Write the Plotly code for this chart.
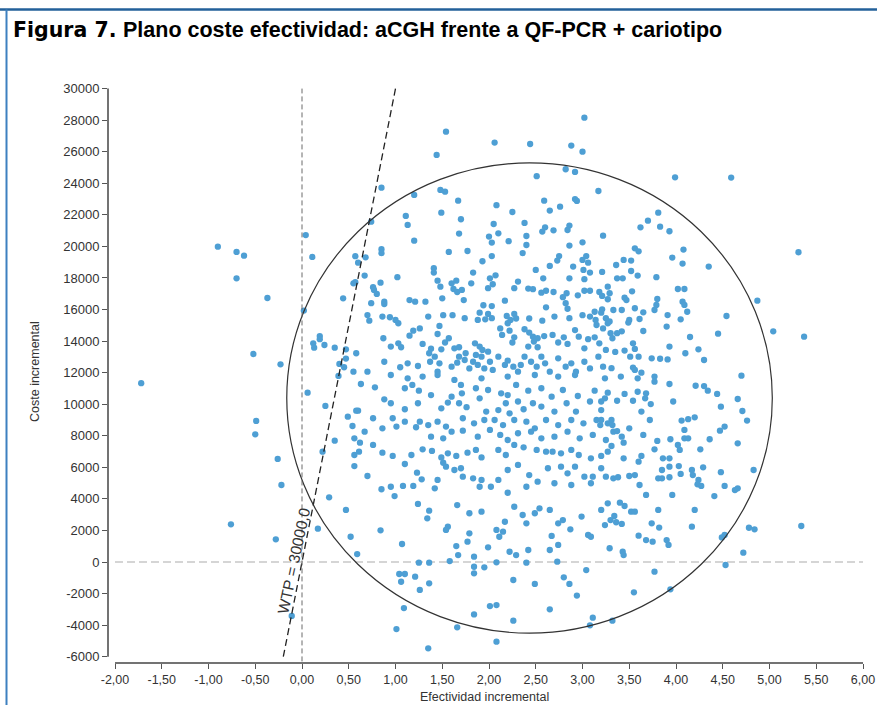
import plotly.graph_objects as go

# ---------------- data ----------------
# incremental effectiveness / incremental cost, grouped by region of the plane
pts_left = [(-0.90,19980),(-0.70,19650),(-0.62,19410),(-0.70,17980),(-0.37,16730),(0.04,20720),(0.11,19330),
    (0.02,15930),(-0.52,13180),(-0.23,12530),(0.19,14320),(0.19,14120),(0.12,13860),(0.13,13580),(0.24,13750),
    (0.35,13580),(0.40,12550),(0.47,12890),(0.39,11790),(-1.72,11330),(0.06,10730),(0.25,9890),(-0.49,8940),
    (-0.50,8090),(0.60,9590),(0.61,6990),(0.35,7690),(0.22,6990),(-0.26,6530),(-0.22,4880),(0.29,4100),
    (0.17,2110),(-0.76,2390),(-0.28,1440),(-0.11,-3420)]

pts_upper = [(3.02,28160),(1.54,27270),(2.06,26580),(2.44,26490),(2.88,26390),(3.00,26000),(1.44,25800),
    (2.82,24890),(2.92,24720),(2.51,24450),(0.85,23720),(3.17,23510),(1.48,23580),(1.53,23470),(1.20,23260),
    (1.67,22900),(2.59,22900),(2.08,22610),(2.92,23000),(2.94,22880),(2.76,22520),(2.65,22270),(1.49,22140),
    (2.25,22180),(1.11,21930),(0.74,21570),(1.70,21720),(1.13,21360),(2.05,21420),(2.38,21490),(2.86,21320),
    (2.84,21040),(2.60,21210),(2.57,20940),(2.69,21020),(3.22,20680),(1.68,20810),(2.10,20830),(2.00,20620),
    (2.40,20660),(1.20,20360),(2.03,20240),(2.21,20330),(3.00,20260),(2.40,20090),(2.86,20050),(0.85,19820),
    (0.85,19570),(1.57,19650),(1.77,19710),(2.36,19580),(0.57,19380),(0.60,18970),(0.68,19310),(2.03,19390),
    (2.75,19390),(2.73,19100),(3.04,19390),(3.00,19140),(3.06,18970),(1.93,19060),(2.65,18760),(1.41,18620),
    (1.41,18340),(2.50,18510),(2.90,18720),(3.01,18510),(3.08,18340),(3.21,18380),(1.83,18340),(2.07,18170),
    (2.01,17980),(0.67,18150),(1.02,18050),(2.58,17980),(2.86,17980),(3.02,17920),(0.55,17660),(0.57,17730),
    (0.84,17700),(1.45,17830),(1.48,17450),(1.60,17660),(1.65,17830),(1.81,17660),(2.31,17770),(2.04,17600),
    (1.99,17350),(2.42,17330),(2.47,17290),(0.76,17410),(0.77,17240),(0.80,16990),(1.62,17300),(1.66,17110),
    (1.71,17240),(2.27,17350),(2.56,17070),(2.61,17190),(2.69,17110),(2.83,17030),(2.79,16780),(2.95,16900),
    (3.02,17190),(3.08,17190),(3.18,17110),(3.21,16860),(3.27,17450),(3.29,17030),(0.44,16710),(0.74,16400),
    (0.88,16500),(0.88,16350),(1.15,16600),(1.21,16500),(1.32,16500),(1.50,16710),(1.73,16600),(2.17,16560),
    (1.94,16270),(2.03,16220),(2.82,16400),(2.84,16050),(2.61,16140),(0.70,15650),(0.72,15290),(0.86,15550),
    (0.94,15510),(1.00,15340),(1.03,15130),(1.35,15550),(1.51,15640),(1.61,15640),(1.74,15450),(1.90,15800),
    (1.99,15720),(1.88,15340),(1.96,15380),(2.03,15450),(2.19,15590),(2.23,15340),(2.27,15720),(2.29,15430),
    (2.20,15130),(2.43,15430),(2.57,15290),(2.70,15550),(2.86,15450),(3.00,15640),(3.08,15550),(3.14,15340),
    (3.20,15800),(3.25,15450),(3.29,15240)]

pts_mid = [(1.26,14800),(1.19,14660),(1.15,14340),(0.87,14180),(0.95,13650),(1.03,13860),(1.06,13610),
    (1.47,14960),(1.45,14450),(1.57,14180),(1.53,13910),(1.29,13820),(1.38,13520),(1.49,13480),(1.63,13540),
    (1.68,13610),(1.75,13230),(1.85,13860),(1.90,13650),(1.93,13440),(1.99,13330),(2.12,14800),(2.14,14390),
    (2.22,14660),(2.27,14240),(2.25,13910),(2.38,14750),(2.43,14540),(2.47,14280),(2.52,14180),(2.59,14320),
    (2.48,13970),(2.42,13650),(2.52,13610),(2.68,14390),(2.74,13910),(2.80,14240),(2.84,13820),(2.92,14700),
    (2.96,14280),(3.06,14120),(3.02,13540),(3.13,14240),(3.18,13860),(3.27,15130),(3.30,14500),(3.25,13440),
    (0.47,13480),(0.58,13230),(0.70,12060),(0.55,12060),(0.45,12340),(0.88,12690),(1.05,12340),(1.13,12590),
    (1.24,12420),(1.36,13230),(1.42,13010),(1.37,12690),(1.47,12590),(1.45,12060),(1.60,12380),(1.66,12630),
    (1.68,13010),(1.74,12800),(1.79,12270),(1.83,12690),(1.86,13120),(1.92,13010),(1.88,12490),(1.95,12270),
    (2.01,12690),(2.04,12170),(2.10,13010),(2.17,12490),(2.20,12760),(2.26,12380),(2.31,12060),(2.34,12490),
    (2.38,13010),(2.45,12690),(2.51,12380),(2.56,13010),(2.60,12590),(2.65,12060),(2.74,12910),(2.82,12380),
    (2.88,12590),(2.93,12060),(3.02,12690),(3.08,12270),(3.17,13010),(3.22,12380),
    (0.95,11850),(1.13,11640),(1.29,11750),(1.45,11850),(1.63,11540),(1.92,11640),(2.20,11750),(2.49,11850),
    (2.74,11750),(2.92,11850),(3.24,11640),(0.63,11280),(0.78,11070),(1.10,11010),(1.18,11220),(1.25,10860),
    (1.38,10580),(1.60,10480),(1.70,11220),(1.71,10690),(1.86,11010),(1.99,10900),(2.13,10690),(2.20,10580),
    (2.29,11220),(2.42,10860),(2.56,11010),(2.67,10480),(2.79,10900),(2.95,10520),(3.13,10860),(3.24,10370),
    (0.88,10310),(0.95,10060),(1.10,9680),(1.24,10060),(1.49,9740),(1.56,10100),(1.68,10060),(1.76,9810),
    (1.90,10370),(1.97,9530),(2.10,9630),(2.18,10060),(2.22,9420),(2.31,10170),(2.37,9680),(2.47,10060),
    (2.56,9850),(2.70,9530),(2.83,10060),(2.93,9530),(3.08,10170),(3.20,9630),
    (0.49,9210),(0.58,9590),(0.76,9110),(0.97,9110),(1.10,8890),(1.26,8890),(1.35,8680),(1.45,8890),
    (1.54,8580),(1.72,9110),(1.84,8790),(1.95,9000),(2.06,9000),(2.15,8680),(2.27,9000),(2.40,8890),
    (2.49,8470),(2.61,9000),(2.74,8680),(2.88,9000),(3.01,8790),(3.15,9000),(3.27,8790)]

pts_lower = [(0.54,8620),(0.67,8260),(0.86,8470),(1.01,8580),(1.22,8540),(1.38,7940),(1.51,7840),(1.60,8260),
    (1.72,8320),(1.88,7940),(2.01,8370),(2.12,8050),(2.20,7730),(2.31,8160),(2.45,8260),(2.56,7840),
    (2.70,7940),(2.84,8260),(2.97,7840),(3.11,8050),(3.25,7730),
    (0.56,7840),(0.62,7560),(0.76,7420),(0.56,6780),(0.86,6930),(0.97,6720),(1.17,6780),(1.29,7140),
    (1.39,7040),(1.49,6630),(1.56,6890),(1.65,6720),(1.77,6930),(1.86,7100),(1.92,6630),(2.10,7100),
    (2.18,6780),(2.27,7420),(2.37,7270),(2.51,7100),(2.61,6990),(2.68,6990),(2.77,6890),(2.88,7100),
    (2.96,6780),(3.09,6570),(3.20,6720),(3.27,6990),
    (0.56,6080),(0.70,5450),(0.85,4610),(0.95,4770),(0.99,4180),(1.10,6210),(1.08,4820),(1.19,4820),
    (1.23,5660),(1.28,5240),(1.42,4670),(1.45,5200),(1.51,6290),(1.54,6040),(1.63,5830),(1.70,5940),
    (1.72,5410),(1.83,5300),(1.90,4770),(1.92,5200),(2.02,4770),(2.10,5200),(2.20,5830),(2.20,4390),
    (2.31,6150),(2.40,4770),(2.43,5510),(2.52,5090),(2.63,5940),(2.70,4990),(2.77,6040),(2.84,5620),
    (2.88,4880),(2.92,6040),(3.02,5410),(3.09,4990),(3.20,5940),(3.25,5410),
    (0.47,3300),(0.52,1600),(0.59,500),(0.84,2010),(1.07,1140),(1.24,3680),(1.34,2770),(1.36,3250),
    (1.56,2240),(1.54,2030),(1.66,3610),(1.65,1010),(1.67,440),(1.79,3090),(1.79,1820),(1.77,1290),
    (1.84,340),(1.92,3190),(1.99,930),(2.08,2030),(2.11,1600),(2.15,1920),(2.17,2550),(2.22,650),
    (2.27,3500),(2.29,440),(2.36,2980),(2.40,2450),(2.42,760),(2.49,3090),(2.54,3400),(2.65,3300),
    (2.67,1650),(2.65,760),(2.74,1080),(2.74,2450),(2.79,2660),(2.87,2070),(2.99,2880),(3.06,1710),
    (3.09,1600),(3.20,3300),(3.24,2340),(3.27,3720),(3.29,870),
    (1.25,-40),(1.36,-40),(1.58,60),(1.84,-300),(1.95,-340),(2.08,-20),(2.40,-40),(2.73,20),(3.04,-510),
    (1.04,-760),(1.10,-760),(1.06,-1250),(1.21,-930),(1.26,-1770),(1.36,-1350),(1.84,-720),(2.26,-1140),
    (2.49,-1390),(2.80,-970),(2.86,-1390),(2.94,-2130),(1.09,-2920),(2.01,-2790),(2.08,-2730),(1.84,-3320),
    (2.26,-3720),(2.65,-3000),(3.11,-3530),(3.08,-4010),(1.01,-4250),(1.66,-4140),(1.35,-5470),(2.08,-5050)]

pts_right = [(3.99,24380),(4.59,24360),(3.81,22140),(3.70,21630),(3.62,21210),(3.83,21250),(3.93,20960),
    (5.31,19630),(3.56,19880),(3.60,19690),(3.52,19100),(3.44,19140),(3.36,18820),(3.96,19290),(4.08,19800),
    (4.07,18910),(4.35,18720),(3.52,18440),(3.59,18150),(3.37,17980),(3.43,17980),(3.79,18050),(4.02,17300),
    (4.09,17300),(3.53,17150),(3.27,16650),(3.47,16600),(3.45,16750),(4.87,16560),(3.80,16670),(3.77,15970),
    (3.79,16290),(4.07,16500),(4.09,16290),(4.12,15860),(3.65,15820),(3.56,16080),(3.42,15970),(3.33,15970),
    (3.21,16010),(3.13,15860),(4.54,15590),(4.05,15380),(3.91,15650),(3.90,14920),(3.61,15400),(3.50,15340),
    (3.49,15170),(3.15,15020),(3.22,14800),(5.04,14620),(4.45,14470),(5.37,14280),(4.15,14260),(3.65,14640),
    (3.42,14620),(3.37,14500),(3.32,14180),(3.93,13650),(4.24,13480),(4.10,13230),(4.30,12800),(4.70,11810),
    (3.54,13860),(3.56,13500),(3.45,13400),(3.35,13310),(3.60,13010),(3.51,13010),(3.74,12910),(3.83,12880),
    (3.91,12840),(3.54,12320),(3.56,12170),(3.41,11750),(3.31,12280),(3.77,11750),(3.63,12000),(3.59,11640),
    (3.77,11430),(3.93,11280),(4.21,11170),(4.30,11150),(4.34,10860),(4.44,10650),(4.66,10330),(4.48,9840),
    (4.71,9570),(4.76,8960),(4.66,7520),(4.83,5830),(3.27,10730),(3.20,10170),(3.37,10220),(3.45,10650),
    (3.54,10220),(3.59,10790),(3.68,10690),(3.73,10010),(3.67,10370),(3.97,10170),(3.20,9000),(3.31,9000),
    (3.32,8680),(3.19,8680),(3.33,8260),(3.37,8300),(3.50,8470),(3.63,9530),(3.72,9000),(3.65,8050),
    (3.77,7140),(3.80,7670),(3.94,7780),(4.06,8960),(4.13,9050),(4.20,9170),(4.09,8370),(4.36,7780),
    (4.47,8320),(4.52,8580),(4.48,5690),(4.09,7840),(4.13,7840),(4.02,7420),(4.04,7100),(4.26,7140),
    (3.42,7940),(3.44,7560),(3.31,7350),(3.44,6570),(3.60,6360),(3.63,6720),(3.86,6570),(3.93,6570),
    (3.85,5830),(3.93,6040),(4.03,6080),(4.05,5580),(4.17,5830),(4.18,5510),(4.24,5200),(4.29,6000),
    (4.23,4920),(4.27,4820),(4.41,4180),(4.52,4820),(4.63,4560),(4.66,4670),(3.81,5300),(3.85,5300),
    (3.93,5370),(3.96,4250),(3.11,5410),(3.33,5300),(3.38,5370),(3.50,5450),(3.56,5510),(3.61,4880),
    (3.68,4250),(3.52,3190),(3.56,3190),(3.40,3760),(3.45,3550),(3.34,2920),(3.36,2520),(3.30,2660),
    (3.42,2410),(3.43,650),(3.44,440),(3.60,1670),(3.68,1390),(3.75,1290),(3.74,2450),(3.81,3300),
    (3.82,2180),(3.90,1390),(3.92,1080),(4.17,2240),(4.20,3300),(4.49,1560),(4.52,1710),(4.72,590),
    (4.78,2170),(4.84,2070),(5.34,2280),(4.53,-190),(3.77,-610),(3.55,-1920),(3.94,-1730),(3.32,-3720)]

WTP = 30000                      # willingness-to-pay threshold
wtp_x_range = [-0.2, 1.0]        # extent of the WTP line (effectiveness)
ellipse_x = [-0.163, 5.03]       # confidence ellipse extent (effectiveness)
ellipse_y = [-4510, 25290]       # confidence ellipse extent (cost)

x_tickvals = [-2.0,-1.5,-1.0,-0.5,0.0,0.5,1.0,1.5,2.0,2.5,3.0,3.5,4.0,4.5,5.0,5.5,6.0]
x_ticktext = ["-2,00","-1,50","-1,00","-0,50","0,00","0,50","1,00","1,50","2,00",
              "2,50","3,00","3,50","4,00","4,50","5,00","5,50","6,00"]
y_tickvals = [30000,28000,26000,24000,22000,20000,18000,16000,14000,12000,10000,
              8000,6000,4000,2000,0,-2000,-4000,-6000]
y_ticktext = ["30000","28000","26000","24000","22000","20000","18000","16000","14000",
              "12000","10000","8000","6000","4000","2000","0","-2000","-4000","-6000"]

# ---------------- figure ----------------
all_pts = pts_left + pts_upper + pts_mid + pts_lower + pts_right
eff = [p[0] for p in all_pts]
cost = [p[1] for p in all_pts]

W, H = 877, 705
ML, MR, MT, MB = 108, 10, 85, 42
PW, PH = W - ML - MR, H - MT - MB

def px(p):   # pixel -> paper x
    return (p - ML) / PW

def py(q):   # pixel -> paper y
    return (H - MB - q) / PH

FONT = "Liberation Sans, Arial, sans-serif"

fig = go.Figure()
fig.add_trace(go.Scatter(x=eff, y=cost, mode="markers",
                         marker=dict(size=6.3, color="#4e9fd4", line=dict(width=0)),
                         hoverinfo="x+y", showlegend=False))
fig.add_trace(go.Scatter(x=wtp_x_range, y=[WTP * v for v in wtp_x_range], mode="lines",
                         line=dict(color="#222222", width=1.3, dash="7px,4px"),
                         hoverinfo="skip", showlegend=False))

shapes = [
    dict(type="circle", xref="x", yref="y", x0=ellipse_x[0], x1=ellipse_x[1],
         y0=ellipse_y[0], y1=ellipse_y[1], line=dict(color="#333333", width=1.2)),
    dict(type="line", xref="x", yref="y", x0=0, x1=0, y0=-6300, y1=30000,
         line=dict(color="#6a6a6a", width=1, dash="5px,3px")),
    dict(type="line", xref="x", yref="y", x0=-2, x1=6, y0=0, y1=0,
         line=dict(color="#c8c8c8", width=1.5, dash="8px,4px"), layer="below"),
    dict(type="line", xref="x", yref="paper", x0=-2, x1=6, y0=0, y1=0,
         line=dict(color="#444444", width=1.5)),
    dict(type="line", xref="paper", yref="y", x0=0, x1=0, y0=-6000, y1=30000,
         line=dict(color="#444444", width=1.5)),
    dict(type="line", xref="paper", yref="paper", x0=px(0), x1=px(W), y0=py(9.5), y1=py(9.5),
         line=dict(color="#23609a", width=2.5)),
    dict(type="line", xref="paper", yref="paper", x0=px(6.5), x1=px(6.5), y0=py(9.5), y1=py(H),
         line=dict(color="#3d80c0", width=2)),
]

annotations = [
    dict(xref="paper", yref="paper", x=px(11), y=py(30), xanchor="left", yanchor="middle",
         text="<b>Figura 7.</b>", showarrow=False,
         font=dict(family="DejaVu Sans, Liberation Sans, sans-serif", size=20.5, color="#000000")),
    dict(xref="paper", yref="paper", x=px(121), y=py(30), xanchor="left", yanchor="middle",
         text="<b>Plano coste efectividad: aCGH frente a QF-PCR + cariotipo</b>", showarrow=False,
         font=dict(family=FONT, size=21.5, color="#000000")),
    dict(xref="paper", yref="paper", x=px(484), y=py(697), xanchor="center", yanchor="middle",
         text="Efectividad incremental", showarrow=False,
         font=dict(family=FONT, size=12.5, color="#333333")),
    dict(xref="paper", yref="paper", x=px(35), y=py(372), xanchor="center", yanchor="middle",
         text="Coste incremental", showarrow=False, textangle=-90,
         font=dict(family=FONT, size=12.5, color="#333333")),
    dict(xref="x", yref="y", x=-0.085, y=80, xanchor="center", yanchor="middle",
         text="WTP = " + f"{WTP:.1f}".replace(".", ","), showarrow=False, textangle=-78,
         font=dict(family=FONT, size=15.5, color="#333333")),
]

x_per_px = 1 / 93.5
y_per_px = 1000 / 15.78
fig.update_layout(
    width=W, height=H,
    margin=dict(l=ML, r=MR, t=MT, b=MB, pad=0, autoexpand=False),
    paper_bgcolor="white", plot_bgcolor="white",
    shapes=shapes, annotations=annotations,
    showlegend=False,
    xaxis=dict(range=[0 - (302 - ML) * x_per_px, 0 + (W - MR - 302) * x_per_px],
               tickvals=x_tickvals, ticktext=x_ticktext, automargin=False,
               showgrid=False, zeroline=False, showline=False,
               ticks="outside", ticklen=5, tickwidth=1, tickcolor="#555555",
               tickfont=dict(family=FONT, size=12.5, color="#333333")),
    yaxis=dict(range=[-(H - MB - 562) * y_per_px, (562 - MT) * y_per_px],
               tickvals=y_tickvals, ticktext=y_ticktext, automargin=False,
               showgrid=False, zeroline=False, showline=False,
               ticks="outside", ticklen=5, tickwidth=1, tickcolor="#555555",
               tickfont=dict(family=FONT, size=13, color="#333333")),
)

fig.write_html("out.html", config={"displayModeBar": False},
               post_script="document.body.style.margin='0px';")
